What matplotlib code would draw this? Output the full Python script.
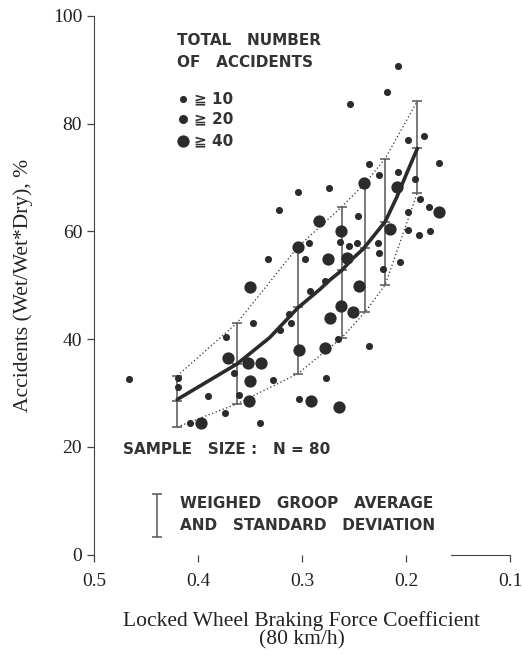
import numpy as np
import matplotlib
matplotlib.use("Agg")
import matplotlib.pyplot as plt

# scatter points: braking force coefficient, accident ratio (%), size class
small_x = [0.208, 0.218, 0.254, 0.198, 0.183, 0.168, 0.236, 0.226, 0.208, 0.274,
           0.304, 0.191, 0.187, 0.178, 0.322, 0.198, 0.246, 0.198, 0.1875, 0.177,
           0.2635, 0.255, 0.247, 0.227, 0.293, 0.226, 0.297, 0.206, 0.333, 0.222,
           0.292, 0.278, 0.3125, 0.311, 0.321, 0.347, 0.373, 0.265, 0.236, 0.365,
           0.328, 0.466, 0.419, 0.419, 0.277, 0.390, 0.361, 0.303, 0.374, 0.408,
           0.340]
small_y = [90.7, 85.9, 83.7, 77.0, 77.6, 72.7, 72.5, 70.5, 71.1, 68.1,
           67.3, 69.8, 66.0, 64.6, 64.0, 63.5, 62.9, 60.3, 59.4, 60.1,
           58.1, 57.3, 57.9, 57.9, 57.9, 56.0, 54.9, 54.4, 54.9, 53.1,
           49.0, 50.8, 44.7, 43.0, 41.7, 43.0, 40.4, 40.1, 38.8, 33.8,
           32.5, 32.7, 32.8, 31.2, 32.8, 29.5, 29.7, 28.9, 26.3, 24.5,
           24.5]
large_x = [0.240, 0.209, 0.168, 0.284, 0.215, 0.2625, 0.304, 0.275, 0.257, 0.350,
           0.245, 0.2625, 0.251, 0.273, 0.303, 0.278, 0.371, 0.352, 0.339, 0.350,
           0.351, 0.291, 0.264, 0.397]
large_y = [69.0, 68.3, 63.5, 62.0, 60.5, 60.1, 57.1, 54.9, 55.1, 49.7,
           49.9, 46.2, 45.1, 44.0, 38.0, 38.4, 36.5, 35.6, 35.6, 32.3,
           28.6, 28.6, 27.5, 24.5]

# weighed group averages and standard deviation
grp_x = [0.420, 0.3625, 0.304, 0.2615, 0.239, 0.220, 0.189]
grp_mean = [28.6, 35.3, 46.0, 52.9, 57.0, 61.8, 75.5]
grp_top = [33.2, 43.0, 57.1, 64.6, 69.0, 73.5, 84.2]
grp_bot = [23.7, 28.0, 33.6, 40.3, 45.1, 50.1, 67.2]

# hand drawn trend curve
curve_x = [0.420, 0.3625, 0.331, 0.304, 0.283, 0.273, 0.2615, 0.251, 0.2413, 0.2346,
           0.220, 0.2087, 0.199, 0.189]
curve_y = [28.8, 35.4, 40.3, 45.8, 49.2, 51.0, 52.8, 55.0, 56.7, 58.3,
           61.8, 66.4, 70.9, 75.4]

xticks = [0.5, 0.4, 0.3, 0.2, 0.1]
yticks = [0, 20, 40, 60, 80, 100]

ink = "#2b2b2b"
serif = "Liberation Serif"

fig = plt.figure(figsize=(5.22, 6.55), dpi=100)
ax = fig.add_axes([0.180, 0.153, 0.797, 0.823])

ax.plot(grp_x, grp_top, ls=(0, (1, 2)), color=ink, lw=0.9)
ax.plot(grp_x, grp_bot, ls=(0, (1, 2)), color=ink, lw=0.9)
ax.errorbar(grp_x, grp_mean, yerr=[np.subtract(grp_mean, grp_bot), np.subtract(grp_top, grp_mean)],
            fmt="none", ecolor="#555555", elinewidth=1.1, capsize=3.5, capthick=1.1)
ax.plot(grp_x, grp_mean, ls="none", marker="_", ms=7, mew=1.1, color="#555555")

ax.scatter(small_x, small_y, s=26, color=ink, lw=0, zorder=3)
ax.scatter(large_x, large_y, s=78, color=ink, lw=0, zorder=3)
ax.plot(curve_x, curve_y, color=ink, lw=2.6, solid_capstyle="round",
        solid_joinstyle="round", zorder=4)

ax.set_xlim(0.5, 0.1)
ax.set_ylim(0, 100)
ax.set_xticks(xticks)
ax.set_yticks(yticks)
ax.set_xticklabels(["0.5", "0.4", "0.3", "0.2", "0.1"])
for s in ["top", "right"]:
    ax.spines[s].set_visible(False)
ax.spines["bottom"].set_bounds(0.157, 0.1)
ax.spines["bottom"].set_color("#444444")
ax.spines["left"].set_color("#444444")
ax.tick_params(axis="both", direction="out", length=5, width=0.9, color="#444444",
               labelsize=14, labelcolor="#222222")
for lab in ax.get_xticklabels() + ax.get_yticklabels():
    lab.set_fontfamily(serif)
ax.tick_params(axis="x", pad=8)

ax.set_ylabel("Accidents (Wet/Wet*Dry), %", fontsize=15.5, family=serif, color="#222222", labelpad=14)
ax.set_xlabel("Locked Wheel Braking Force Coefficient\n(80 km/h)", fontsize=15.5, family=serif,
              color="#222222", labelpad=15, linespacing=0.95)

# legend block drawn by hand like the original figure
tk = dict(transform=ax.transAxes, fontsize=11, color="#333333", fontweight="bold", va="center")
ax.text(0.200, 0.954, "TOTAL   NUMBER", **tk)
ax.text(0.200, 0.913, "OF   ACCIDENTS", **tk)
leg_y = [0.846, 0.809, 0.768]
leg_s = [26, 42, 78]
leg_t = ["≧ 10", "≧ 20", "≧ 40"]
for yy, ss, tt in zip(leg_y, leg_s, leg_t):
    ax.scatter([0.214], [yy], s=ss, color=ink, lw=0, transform=ax.transAxes)
    ax.text(0.240, yy, tt, **tk)

ax.text(0.070, 0.195, "SAMPLE   SIZE :   N = 80", **tk)
ax.errorbar([0.151], [0.073], yerr=[[0.040], [0.040]], fmt="none", ecolor="#555555",
            elinewidth=1.1, capsize=3.5, capthick=1.1, transform=ax.transAxes)
ax.text(0.207, 0.096, "WEIGHED   GROOP   AVERAGE", **tk)
ax.text(0.207, 0.054, "AND   STANDARD   DEVIATION", **tk)

fig.savefig("out.png", dpi=100)
